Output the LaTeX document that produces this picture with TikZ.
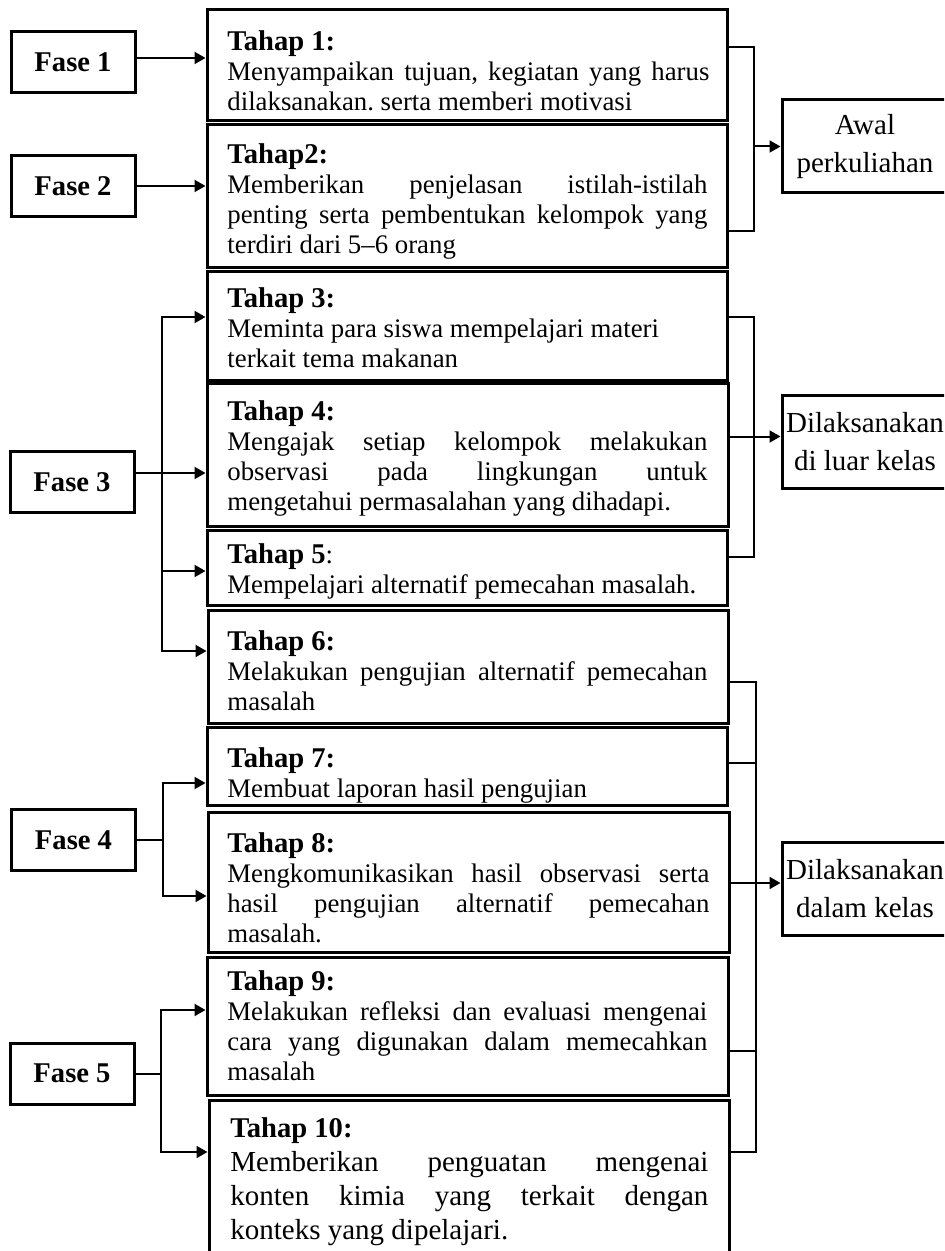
\documentclass[tikz,border=0pt]{standalone}
\usepackage{fontspec}
\setmainfont{Liberation Serif}
\usetikzlibrary{arrows.meta,fit}
\setlength{\parindent}{0pt}
\frenchspacing

\newcommand{\judul}[1]{{\fontsize{14.3}{15}\selectfont\bfseries #1}}
\newcommand{\rata}[2][241pt]{\makebox[#1][s]{\spaceskip=0pt\xspaceskip=0pt\relax #2}}

\begin{document}
\begin{tikzpicture}[x=0.5pt,y=-0.5pt,
    kotak/.style={draw,line width=1.5pt,inner sep=0pt},
    fase/.style={kotak,minimum width=62pt,minimum height=30.5pt,font=\fontsize{14.3}{16}\selectfont\bfseries},
    isi/.style={anchor=north west,inner sep=0pt,text width=241pt,align=justify,font=\fontsize{13.4}{15}\selectfont},
    ket/.style={kotak,minimum width=83pt,minimum height=46.5pt,align=center,font=\fontsize{14.5}{19}\selectfont},
    garis/.style={line width=1pt},
    panah/.style={line width=1pt,-{Triangle[length=5.5pt,width=6pt]}}]

            \useasboundingbox (0,0) rectangle (944,1251);
            \clip (0,0) rectangle (944,1251);

            % kotak tahap
            \node[kotak,fit={(207,10) (727,121)}] (t1) {};
            \node[kotak,fit={(207,125) (727,268)}] (t2) {};
            \node[kotak,fit={(207,272) (727,380)}] (t3) {};
            \node[kotak,fit={(207,383) (728,526)}] (t4) {};
            \node[kotak,fit={(207,530) (727,605)}] (t5) {};
            \node[kotak,fit={(208,610) (728,723)}] (t6) {};
            \node[kotak,fit={(207,727) (727,805)}] (t7) {};
            \node[kotak,fit={(208,812) (729,952)}] (t8) {};
            \node[kotak,fit={(207,957) (728,1095)}] (t9) {};
            \node[kotak,fit={(209,1100) (729,1262)}] (t10) {};

            \node[isi] (t1x) at (227,30) {\judul{Tahap 1:}\\ \rata{Menyampaikan tujuan, kegiatan yang harus}\\ dilaksanakan. serta memberi motivasi};
            \node[isi] (t2x) at (227,143) {\judul{Tahap2:}\\ \rata[240pt]{Memberikan penjelasan istilah-istilah}\\ \rata[240pt]{penting serta pembentukan kelompok yang}\\ terdiri dari 5--6 orang};
            \node[isi] (t3x) at (227,287) {\judul{Tahap 3:}\\ Meminta para siswa mempelajari materi\\ terkait tema makanan};
            \node[isi] (t4x) at (227,400) {\judul{Tahap 4:}\\ \rata[240pt]{Mengajak setiap kelompok melakukan}\\ \rata[240pt]{observasi pada lingkungan untuk}\\ mengetahui permasalahan yang dihadapi.};
            \node[isi] (t5x) at (227,543) {\judul{Tahap 5}:\\ Mempelajari alternatif pemecahan masalah.};
            \node[isi] (t6x) at (227,630) {\judul{Tahap 6:}\\ \rata[240pt]{Melakukan pengujian alternatif pemecahan}\\ masalah};
            \node[isi] (t7x) at (227,747) {\judul{Tahap 7:}\\ Membuat laporan hasil pengujian};
            \node[isi] (t8x) at (227,832) {\judul{Tahap 8:}\\ \rata{Mengkomunikasikan hasil observasi serta}\\ \rata{hasil pengujian alternatif pemecahan}\\ masalah.};
            \node[isi] (t9x) at (227,970) {\judul{Tahap 9:}\\ \rata[240pt]{Melakukan refleksi dan evaluasi mengenai}\\ \rata[240pt]{cara yang digunakan dalam memecahkan}\\ masalah};
            \node[isi,text width=239pt,font=\fontsize{14.5}{17}\selectfont] (t10x) at (230,1117) {\judul{Tahap 10:}\\ \rata[239pt]{Memberikan penguatan mengenai}\\ \rata[239pt]{konten kimia yang terkait dengan}\\ konteks yang dipelajari.};

            % kotak fase
            \node[fase] (f1) at (73,62) {Fase 1};
            \node[fase] (f2) at (73,186) {Fase 2};
            \node[fase] (f3) at (72,482) {Fase 3};
            \node[fase] (f4) at (73.5,840) {Fase 4};
            \node[fase] (f5) at (72,1073.5) {Fase 5};

            % kotak keterangan
            \node[ket] (a1) at (865,146.5) {Awal\\perkuliahan};
            \node[ket] (b1) at (865,441.5) {Dilaksanakan\\di luar kelas};
            \node[ket] (c1) at (865,889) {Dilaksanakan\\dalam kelas};

            % fase ke tahap
            \draw[panah] ([yshift=2pt]f1.east) -- ([yshift=2pt]f1.east -| t1.west);
            \draw[panah] (f2.east) -- (f2.east -| t2.west);

            \coordinate (s3a) at (162,317);
            \coordinate (s3b) at (162,571);
            \coordinate (s3c) at (162,651);
            \draw[panah] ([yshift=4.5pt]f3.east) -- ([yshift=4.5pt]f3.east -| t4.west);
            \draw[panah] (s3b) -- (s3a) -- (s3a -| t3.west);
            \draw[panah] (s3b) -- (s3c) -- (s3c -| t6.west);
            \draw[panah] (s3b) -- (s3b -| t5.west);

            \coordinate (s4a) at (163,783);
            \coordinate (s4b) at (163,896);
            \draw[garis] (f4.east) -- (f4.east -| s4a);
            \draw[panah] (f4.east -| s4a) -- (s4a) -- (s4a -| t7.west);
            \draw[panah] (f4.east -| s4a) -- (s4b) -- (s4b -| t8.west);

            \coordinate (s5a) at (161,1010);
            \coordinate (s5b) at (161,1152);
            \draw[garis] (f5.east) -- (f5.east -| s5a);
            \draw[panah] (f5.east -| s5a) -- (s5a) -- (s5a -| t9.west);
            \draw[panah] (f5.east -| s5a) -- (s5b) -- (s5b -| t10.west);

            % tahap ke keterangan
            \coordinate (r1a) at (754,47);
            \coordinate (r1b) at (754,231);
            \draw[garis] (r1a -| t1.east) -- (r1a) -- (r1b) -- (r1b -| t2.east);
            \draw[panah] (a1.west -| r1a) -- (a1.west);

            \coordinate (r2a) at (754,317);
            \coordinate (r2b) at (754,557);
            \draw[garis] (r2a -| t3.east) -- (r2a) -- (r2b) -- (r2b -| t5.east);
            \draw[panah] ([yshift=2.5pt]b1.west -| t4.east) -- ([yshift=2.5pt]b1.west);

            \coordinate (r3a) at (756,682);
            \coordinate (r3b) at (756,763);
            \coordinate (r3c) at (756,1051);
            \coordinate (r3d) at (756,1152);
            \draw[garis] (r3a -| t6.east) -- (r3a) -- (r3d) -- (r3d -| t10.east);
            \draw[garis] (r3b -| t7.east) -- (r3b);
            \draw[garis] (r3c -| t9.east) -- (r3c);
            \draw[panah] ([yshift=3pt]c1.west -| t8.east) -- ([yshift=3pt]c1.west);

        \end{tikzpicture}
\end{document}
